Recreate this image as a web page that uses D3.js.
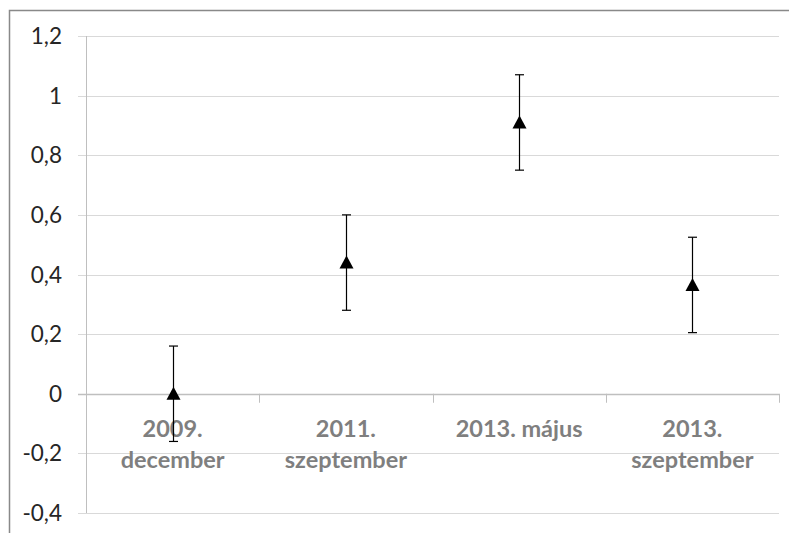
<!DOCTYPE html>
<html><head><meta charset="utf-8">
<script src="https://cdn.jsdelivr.net/npm/d3@7"></script>
<style>body{margin:0;background:#fff}svg{display:block}</style>
</head><body>
<script>
const categories = [["2009.","december"],["2011.","szeptember"],["2013. május"],["2013.","szeptember"]];
const values = [0, 0.44, 0.91, 0.365];
const errLow = [-0.16, 0.28, 0.75, 0.205];
const errHigh = [0.16, 0.60, 1.07, 0.525];
const yTicks = [-0.4,-0.2,0,0.2,0.4,0.6,0.8,1,1.2];

const W=789,H=533;
const svg=d3.select("body").append("svg").attr("width",W).attr("height",H);
svg.append("rect").attr("x",9.5).attr("y",10.5).attr("width",W+10).attr("height",H+10)
  .attr("fill","none").attr("stroke","#898989").attr("stroke-width",1.5);

const x=d3.scaleBand().domain(d3.range(categories.length)).range([86,779]);
const y=d3.scaleLinear().domain([-0.4,1.2]).range([513,36]);
const fmt=v=>String(Math.round(v*10)/10).replace(".",",");

svg.append("g").selectAll("line").data(yTicks).join("line")
  .attr("x1",78).attr("x2",779).attr("y1",d=>Math.round(y(d))+0.5).attr("y2",d=>Math.round(y(d))+0.5)
  .attr("stroke",d=>d===0?"#bfbfbf":"#d9d9d9").attr("stroke-width",d=>d===0?1.3:1);
svg.append("line").attr("x1",86.5).attr("x2",86.5).attr("y1",y(1.2)).attr("y2",y(-0.4)).attr("stroke","#bfbfbf");
svg.append("g").selectAll("text").data(yTicks).join("text")
  .attr("x",62).attr("y",d=>y(d)).attr("dy","0.36em").attr("text-anchor","end")
  .attr("font-family","Lato, sans-serif").attr("font-size",22.5).attr("fill","#262626")
  .text(d=>fmt(d));
const edges=d3.range(categories.length+1).map(i=>i<categories.length?x(i):x.range()[1]);
svg.append("g").selectAll("line").data(edges.slice(1)).join("line")
  .attr("x1",d=>Math.round(d)+0.5).attr("x2",d=>Math.round(d)+0.5).attr("y1",y(0)).attr("y2",y(0)+9)
  .attr("stroke","#bfbfbf");
const lab=svg.append("g").selectAll("text").data(categories).join("text")
  .attr("text-anchor","middle").attr("font-family","Lato, sans-serif").attr("font-weight","bold")
  .attr("font-size",23.5).attr("fill","#7f7f7f");
lab.each(function(d,i){
  const t=d3.select(this);
  d.forEach((s,j)=>t.append("tspan").attr("x",x(i)+x.bandwidth()/2).attr("y",y(0)+43+j*31).text(s));
});
const eb=svg.append("g").attr("stroke","#000").attr("stroke-width",1.2);
values.forEach((v,i)=>{
  const cx=Math.round(x(i)+x.bandwidth()/2)+0.5;
  eb.append("line").attr("x1",cx).attr("x2",cx).attr("y1",y(errLow[i])).attr("y2",y(errHigh[i]));
  [errLow[i],errHigh[i]].forEach(e=>eb.append("line").attr("x1",cx-4.5).attr("x2",cx+4.5).attr("y1",y(e)).attr("y2",y(e)));
});
svg.append("g").selectAll("path").data(values).join("path")
  .attr("transform",(d,i)=>`translate(${Math.round(x(i)+x.bandwidth()/2)+0.5},${y(d)})`)
  .attr("d","M0,-7L7,6L-7,6Z").attr("fill","#000");
</script>
</body></html>
